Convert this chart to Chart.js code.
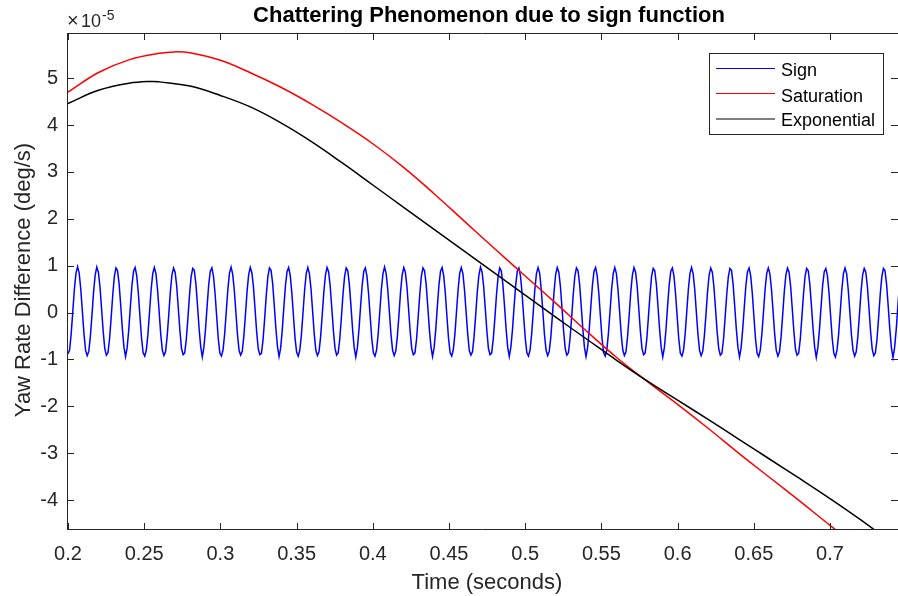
<!DOCTYPE html>
<html>
<head>
<meta charset="utf-8">
<script src="https://cdn.jsdelivr.net/npm/chart.js@4.4.1/dist/chart.umd.min.js"></script>
<style>
html,body{margin:0;padding:0;background:#ffffff;overflow:hidden;}
#wrap{width:898px;height:596px;position:relative;}
</style>
</head>
<body>
<div id="wrap"><canvas id="c" width="898" height="596"></canvas></div>
<script>
// ---------------- data ----------------
const titleText = 'Chattering Phenomenon due to sign function';
const xLabel = 'Time (seconds)';
const yLabel = 'Yaw Rate Difference (deg/s)';
const seriesNames = ['Sign', 'Saturation', 'Exponential'];

const xTicks = [0.2, 0.25, 0.3, 0.35, 0.4, 0.45, 0.5, 0.55, 0.6, 0.65, 0.7];
const xTickLabels = ['0.2', '0.25', '0.3', '0.35', '0.4', '0.45', '0.5', '0.55', '0.6', '0.65', '0.7'];
const yTicks = [-4, -3, -2, -1, 0, 1, 2, 3, 4, 5];
const yTickLabels = ['-4', '-3', '-2', '-1', '0', '1', '2', '3', '4', '5'];
const yExponent = '-5';

// Sign controller output (units of 1e-5), sampled every signStep seconds from signStart
const signStart = 0.2;
const signStep = 0.0010491;
const signValues = [
-0.88,-0.80,-0.45,0.02,0.50,0.84,0.98,0.84,0.49,0.02,-0.46,-0.81,
-0.92,-0.83,-0.51,-0.05,0.44,0.80,0.97,0.86,0.55,0.08,-0.40,-0.77,
-0.91,-0.86,-0.56,-0.11,0.38,0.77,0.95,0.89,0.60,0.14,-0.35,-0.74,
-0.94,-0.75,-0.37,0.12,0.58,0.88,0.96,0.78,0.41,-0.08,-0.55,-0.86,
-0.93,-0.80,-0.46,0.01,0.49,0.83,0.96,0.83,0.49,0.02,-0.46,-0.80,
-0.92,-0.84,-0.52,-0.06,0.43,0.80,0.95,0.86,0.56,0.09,-0.39,-0.77,
-0.90,-0.86,-0.57,-0.12,0.37,0.76,0.94,0.90,0.61,0.15,-0.34,-0.73,
-0.95,-0.74,-0.36,0.13,0.59,0.88,0.95,0.77,0.40,-0.09,-0.56,-0.87,
-0.93,-0.79,-0.45,0.02,0.50,0.84,0.97,0.82,0.48,0.01,-0.47,-0.81,
-0.91,-0.83,-0.50,-0.04,0.45,0.81,0.96,0.85,0.54,0.07,-0.41,-0.78,
-0.90,-0.87,-0.58,-0.13,0.36,0.76,0.95,0.90,0.62,0.16,-0.33,-0.72,
-0.94,-0.76,-0.38,0.11,0.57,0.87,0.96,0.79,0.42,-0.07,-0.54,-0.85,
-0.93,-0.80,-0.47,0.00,0.48,0.83,0.96,0.83,0.50,0.03,-0.45,-0.80,
-0.92,-0.84,-0.52,-0.06,0.43,0.79,0.96,0.87,0.56,0.09,-0.39,-0.76,
-0.91,-0.86,-0.56,-0.10,0.39,0.77,0.95,0.89,0.59,0.13,-0.36,-0.75,
-0.95,-0.75,-0.36,0.13,0.58,0.88,0.95,0.77,0.40,-0.08,-0.56,-0.86,
-0.93,-0.80,-0.46,0.01,0.49,0.83,0.97,0.83,0.49,0.02,-0.46,-0.80,
-0.92,-0.83,-0.51,-0.05,0.44,0.80,0.96,0.86,0.55,0.08,-0.40,-0.77,
-0.90,-0.86,-0.57,-0.11,0.38,0.77,0.95,0.89,0.61,0.14,-0.35,-0.73,
-0.94,-0.75,-0.37,0.12,0.58,0.88,0.96,0.78,0.41,-0.08,-0.55,-0.86,
-0.93,-0.79,-0.46,0.02,0.49,0.84,0.96,0.83,0.48,0.01,-0.46,-0.81,
-0.91,-0.84,-0.51,-0.05,0.44,0.80,0.97,0.86,0.55,0.08,-0.40,-0.78,
-0.90,-0.86,-0.56,-0.12,0.38,0.76,0.95,0.89,0.60,0.15,-0.34,-0.74,
-0.94,-0.74,-0.37,0.12,0.58,0.88,0.95,0.78,0.41,-0.09,-0.55,-0.86,
-0.93,-0.80,-0.46,0.01,0.50,0.83,0.96,0.84,0.49,0.02,-0.47,-0.80,
-0.92,-0.83,-0.52,-0.05,0.44,0.81,0.96,0.86,0.55,0.08,-0.40,-0.77,
-0.91,-0.86,-0.56,-0.11,0.38,0.77,0.95,0.89,0.60,0.14,-0.35,-0.74,
-0.94,-0.75,-0.37,0.12,0.58,0.88,0.96,0.78,0.41,-0.08,-0.55,-0.86,
-0.93,-0.80,-0.45,0.01,0.49,0.83,0.96,0.83,0.49,0.02,-0.46,-0.80,
-0.92,-0.84,-0.51,-0.06,0.44,0.80,0.96,0.86,0.56,0.08,-0.40,-0.77,
-0.90,-0.86,-0.57,-0.11,0.37,0.77,0.94,0.89,0.60,0.14,-0.35,-0.74,
-0.95,-0.75,-0.37,0.13,0.58,0.88,0.95,0.78,0.40,-0.08,-0.56,-0.87,
-0.93,-0.80,-0.46,0.01,0.49,0.83,0.96,0.83,0.49,0.01,-0.46,-0.81,
-0.92,-0.83,-0.51,-0.05,0.44,0.80,0.95,0.86,0.55,0.08,-0.41,-0.77,
-0.91,-0.87,-0.57,-0.11,0.38,0.76,0.94,0.90,0.60,0.14,-0.35,-0.74,
-0.95,-0.75,-0.36,0.12,0.58,0.87,0.95,0.78,0.41,-0.08,-0.56,-0.87,
-0.94,-0.80,-0.46,0.01,0.49,0.83,0.95,0.83,0.49,0.02,-0.46,-0.81,
-0.93,-0.84,-0.52,-0.05,0.44,0.80,0.95,0.86,0.55,0.08,-0.40,-0.78,
-0.91,-0.87,-0.57,-0.11,0.38,0.77,0.94,0.89,0.60,0.14,-0.35,-0.74,
-0.96,-0.75,-0.37,0.12,0.58,0.87,0.94,0.78,0.41,-0.08,-0.56,-0.87,
-0.95,-0.80,-0.46,0.01,0.49,0.83,0.95,0.83,0.49,0.02,-0.47,-0.81,
-0.93,-0.84,-0.52,-0.05,0.44,0.80,0.94,0.86,0.55,0.08,-0.41,-0.78,
-0.92,-0.86,-0.57,-0.11,0.38,0.76,0.94,0.89,0.60,0.14,-0.35,-0.75,
-0.96,-0.75,-0.37,0.12,0.58
];

// Saturation controller output (units of 1e-5)
const satTime = [0.20, 0.22, 0.24, 0.26, 0.27, 0.28, 0.30, 0.32, 0.34, 0.36, 0.38,
                 0.40, 0.42, 0.44, 0.46, 0.48, 0.50, 0.52, 0.54, 0.56, 0.58,
                 0.60, 0.62, 0.64, 0.66, 0.68, 0.70, 0.72];
const satValues = [4.70, 5.12, 5.39, 5.53, 5.56, 5.54, 5.38, 5.11, 4.80, 4.44, 4.04,
                   3.60, 3.10, 2.54, 1.95, 1.36, 0.78, 0.20, -0.39, -0.96, -1.47,
                   -1.96, -2.47, -3.00, -3.51, -4.02, -4.54, -5.04];

// Exponential controller output (units of 1e-5)
const expTime = [0.20, 0.22, 0.24, 0.255, 0.26, 0.28, 0.30, 0.32, 0.34, 0.36, 0.38,
                 0.40, 0.42, 0.44, 0.46, 0.48, 0.50, 0.52, 0.54, 0.56, 0.58,
                 0.60, 0.62, 0.64, 0.66, 0.68, 0.70, 0.72, 0.74];
const expValues = [4.46, 4.74, 4.89, 4.93, 4.92, 4.83, 4.63, 4.38, 4.04, 3.64, 3.19,
                   2.72, 2.25, 1.78, 1.31, 0.84, 0.37, -0.10, -0.56, -1.02, -1.46,
                   -1.87, -2.28, -2.70, -3.12, -3.54, -3.97, -4.42, -4.90];

// ---------------- chart ----------------
const FONT = "'Liberation Sans', Arial, Helvetica, sans-serif";
const AX = '#262626';
const X_MIN = 0.199344, X_MAX = 0.744619;
const Y_MIN = -4.640, Y_MAX = 5.9627;

const framePlugin = {
  id: 'matlabFrame',
  afterDraw(chart) {
    const { ctx, chartArea: a, scales: { x, y } } = chart;
    ctx.save();
    ctx.strokeStyle = AX;
    ctx.lineWidth = 1;
    ctx.beginPath();
    ctx.moveTo(a.left + 0.5, a.top); ctx.lineTo(a.left + 0.5, a.bottom);
    ctx.moveTo(a.left, a.bottom - 0.5); ctx.lineTo(a.right, a.bottom - 0.5);
    ctx.moveTo(a.left, a.top + 0.5); ctx.lineTo(a.right, a.top + 0.5);
    const TL = 7;
    xTicks.forEach(v => {
      const px = Math.round(x.getPixelForValue(v)) + 0.5;
      ctx.moveTo(px, a.bottom); ctx.lineTo(px, a.bottom - TL);
      ctx.moveTo(px, a.top); ctx.lineTo(px, a.top + TL);
    });
    yTicks.forEach(v => {
      const py = Math.round(y.getPixelForValue(v)) + 0.5;
      ctx.moveTo(a.left, py); ctx.lineTo(a.left + TL, py);
      ctx.moveTo(a.right, py); ctx.lineTo(a.right - TL, py);
    });
    ctx.stroke();

    // title
    ctx.fillStyle = '#000000';
    ctx.font = 'bold 22px ' + FONT;
    ctx.textAlign = 'center';
    ctx.textBaseline = 'alphabetic';
    ctx.fillText(titleText, 489, 22);

    // axis labels
    ctx.fillStyle = AX;
    ctx.font = '22px ' + FONT;
    ctx.fillText(xLabel, 487, 589);
    ctx.save();
    ctx.translate(29.5, 280);
    ctx.rotate(-Math.PI / 2);
    ctx.fillText(yLabel, 0, 0);
    ctx.restore();

    // exponent
    ctx.textAlign = 'left';
    ctx.font = '20px ' + FONT;
    ctx.fillText('\u00D7', 67, 27);
    ctx.font = '18px ' + FONT;
    ctx.fillText('10', 81, 27);
    const w10 = ctx.measureText('10').width;
    ctx.font = '14px ' + FONT;
    ctx.fillText(yExponent, 81 + w10 + 1, 20);

    // legend
    const bx = 709.5, by = 53.5, bw = 174, bh = 81;
    ctx.fillStyle = '#ffffff';
    ctx.fillRect(bx, by, bw, bh);
    ctx.strokeStyle = AX;
    ctx.lineWidth = 1;
    ctx.strokeRect(bx, by, bw, bh);
    const rowsY = [68.5, 93.5, 119];
    const baseY = [76, 101.5, 126];
    ctx.font = '18px ' + FONT;
    chart.data.datasets.forEach((ds, i) => {
      ctx.strokeStyle = ds.borderColor;
      ctx.lineWidth = 1;
      ctx.beginPath();
      ctx.moveTo(716, rowsY[i]); ctx.lineTo(775, rowsY[i]);
      ctx.stroke();
      ctx.fillStyle = '#000000';
      ctx.fillText(ds.label, 781, baseY[i]);
    });
    ctx.restore();
  }
};

const ctx = document.getElementById('c').getContext('2d');
new Chart(ctx, {
  type: 'line',
  data: {
    datasets: [
      {
        label: seriesNames[0],
        data: signValues.map((v, i) => ({ x: signStart + i * signStep, y: v })),
        borderColor: '#0000ff',
        borderWidth: 1.5,
        pointRadius: 0,
        fill: false,
        order: 3
      },
      {
        label: seriesNames[1],
        data: satTime.map((t, i) => ({ x: t, y: satValues[i] })),
        borderColor: '#ff0000',
        borderWidth: 1.5,
        tension: 0.4,
        pointRadius: 0,
        fill: false,
        order: 2
      },
      {
        label: seriesNames[2],
        data: expTime.map((t, i) => ({ x: t, y: expValues[i] })),
        borderColor: '#000000',
        borderWidth: 1.5,
        tension: 0.4,
        pointRadius: 0,
        fill: false,
        order: 1
      }
    ]
  },
  options: {
    responsive: false,
    animation: false,
    devicePixelRatio: 1,
    layout: { padding: { top: 33, left: 0, right: 0, bottom: 0 } },
    plugins: {
      legend: { display: false },
      title: { display: false },
      tooltip: { enabled: false }
    },
    scales: {
      x: {
        type: 'linear',
        min: X_MIN,
        max: X_MAX,
        afterBuildTicks: s => { s.ticks = xTicks.map(v => ({ value: v })); },
        afterFit: s => { s.height = 66; },
        grid: { display: false, drawTicks: false },
        border: { display: false },
        ticks: {
          autoSkip: false, maxRotation: 0, minRotation: 0, padding: 12,
          color: AX, font: { family: FONT, size: 20 },
          callback: (v, i) => xTickLabels[i]
        }
      },
      y: {
        type: 'linear',
        min: Y_MIN,
        max: Y_MAX,
        afterBuildTicks: s => { s.ticks = yTicks.map(v => ({ value: v })); },
        afterFit: s => { s.width = 67; },
        grid: { display: false, drawTicks: false },
        border: { display: false },
        ticks: {
          autoSkip: false, padding: 9,
          color: AX, font: { family: FONT, size: 20 },
          callback: (v, i) => yTickLabels[i]
        }
      }
    }
  },
  plugins: [framePlugin]
});
</script>
</body>
</html>
